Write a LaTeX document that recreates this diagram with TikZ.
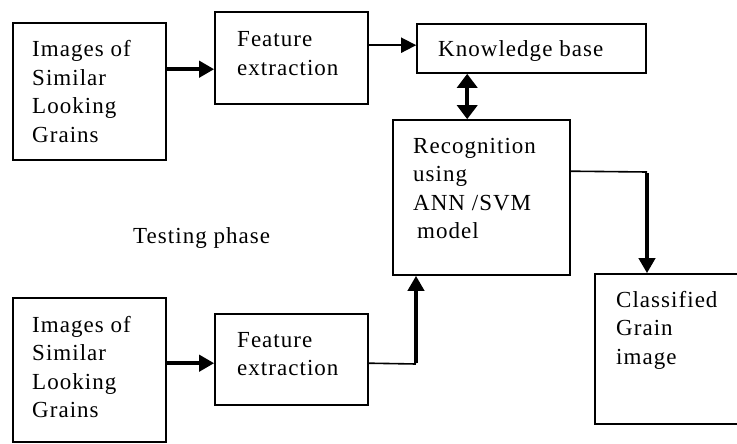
\documentclass[tikz,border=0pt]{standalone}
\usepackage{fontspec}
\setmainfont{Liberation Serif}[LetterSpace=4.5]
\usetikzlibrary{arrows.meta,calc}
\begin{document}
\begin{tikzpicture}[x=1pt,y=-1pt,
  box/.style={draw,line width=1.6pt,inner sep=0pt,rectangle},
  txt/.style={inner sep=0pt,anchor=base west,align=left,font=\fontsize{23}{28.5}\selectfont},
  thinline/.style={line width=1.6pt},
  thickarrow/.style={line width=4pt,-{Triangle[length=15pt,width=16pt]}},
  thinarrow/.style={line width=1.8pt,-{Triangle[length=15pt,width=15pt]}},
  dblarrow/.style={line width=4pt,{Triangle[length=14pt,width=20pt]}-{Triangle[length=14pt,width=20pt]}}]
\useasboundingbox (0,0) rectangle (737,444);
% boxes
\node[box,minimum width=153pt,minimum height=137pt] (b1) at (89.5,91.5) {};
\node[box,minimum width=153pt,minimum height=92pt] (fe1) at (291.5,58) {};
\node[box,minimum width=229pt,minimum height=49pt] (kb) at (531.5,48.5) {};
\node[box,minimum width=177pt,minimum height=155pt] (rec) at (481.5,197.5) {};
\node[box,minimum width=145pt,minimum height=150pt] (cls) at (667.5,349) {};
\node[box,minimum width=153pt,minimum height=144pt] (b2) at (89.5,370) {};
\node[box,minimum width=153pt,minimum height=91pt] (fe2) at (291.5,359.5) {};
% texts (anchored at the baseline of the last line)
\node[txt] (t1) at (32,142.5) {Images of\\Similar\\Looking\\Grains};
\node[txt] (tf1) at (237,75.5) {Feature\\extraction};
\node[txt] (tkb) at (438,57) {Knowledge base};
\node[txt] (trec) at (413,238.5) {Recognition\\using\\ANN /SVM\\\hspace{4pt}model};
\node[txt] (tcls) at (616,364) {Classified\\Grain\\image};
\node[txt] (t2) at (32,417.5) {Images of\\Similar\\Looking\\Grains};
\node[txt] (tf2) at (237,375.5) {Feature\\extraction};
\node[txt] (ttest) at (133,243) {Testing phase};
% connectors
\draw[thickarrow] ($(b1.north east)+(0,47)$) -- ($(fe1.north west)+(0,58)$);
\draw[thinarrow] ($(fe1.north east)+(0,34)$) -- ($(kb.north west)+(0,22)$);
\draw[dblarrow] ($(kb.south west)+(51,0)$) -- ($(rec.north west)+(75,0)$);
\coordinate (c1) at (647,172);
\draw[thinline] ($(rec.north east)+(0,52)$) -- (c1);
\draw[thickarrow] ([yshift=-1pt]c1) -- (c1 |- cls.north);
\draw[thickarrow] ($(b2.north east)+(0,66)$) -- ($(fe2.north west)+(0,50)$);
\coordinate (c2) at (416,364);
\draw[thinline] ($(fe2.north east)+(0,50)$) -- (c2);
\draw[thickarrow] ([yshift=1pt]c2) -- (c2 |- rec.south);
\end{tikzpicture}
\end{document}
